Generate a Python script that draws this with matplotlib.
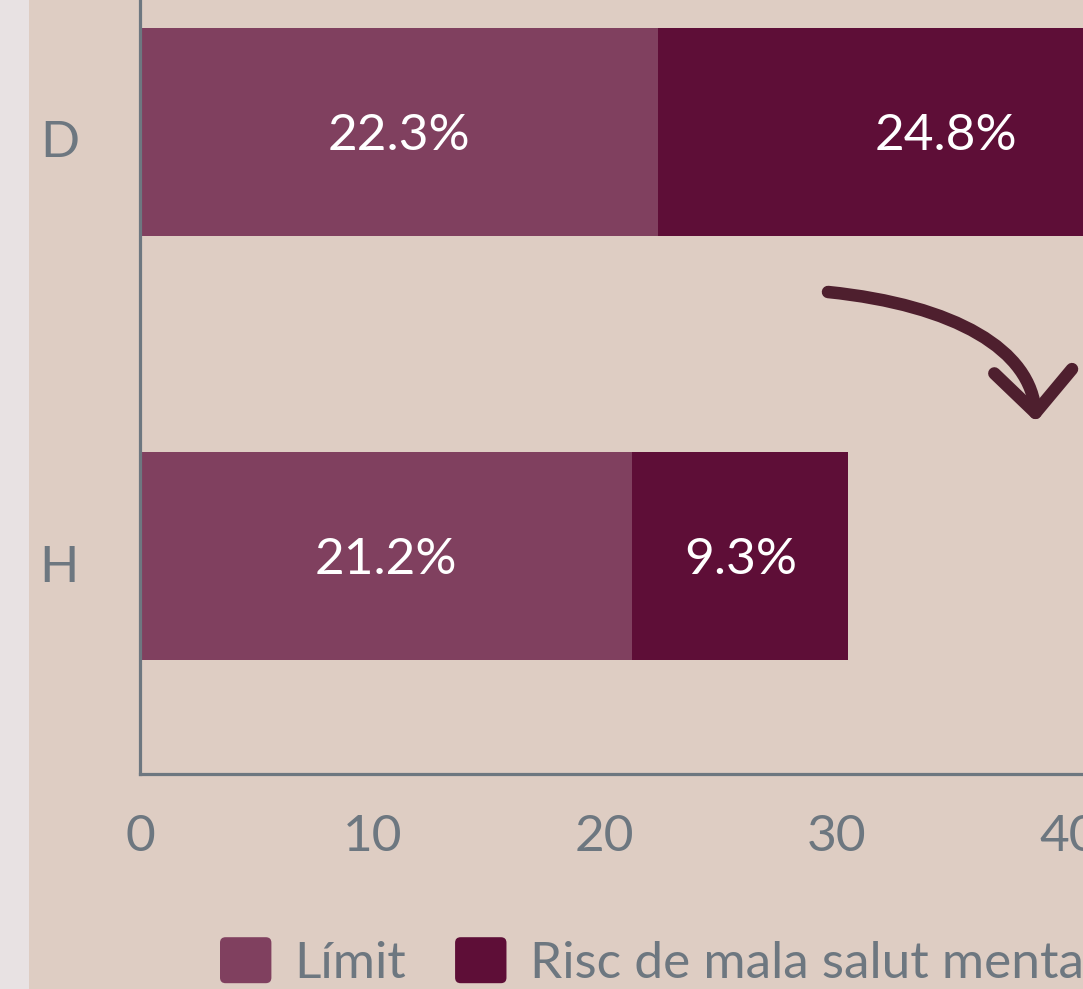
import matplotlib
matplotlib.use("Agg")
import matplotlib.pyplot as plt
import matplotlib.transforms as mtrans
from matplotlib.patches import Rectangle, FancyBboxPatch, FancyArrowPatch, Patch
from matplotlib.legend_handler import HandlerPatch
from matplotlib.path import Path

plt.rcParams["font.family"] = ["Lato", "DejaVu Sans"]

groups = ["H", "D"]
limit_vals = [21.2, 22.3]
risc_vals = [9.3, 24.8]
series_names = ["Límit", "Risc de mala salut mental"]
x_ticks = [0, 10, 20, 30, 40]

c_limit = "#80405f"
c_risc = "#5e0e37"
c_axis = "#6d7780"
bg = "#decdc3"

W, H = 1083, 989
fig = plt.figure(figsize=(W / 100, H / 100), dpi=100, facecolor=bg)

# light strip on the left edge
fig.patches.append(Rectangle((0, 0), 29 / W, 1, transform=fig.transFigure,
                             facecolor="#e8e2e3", edgecolor="none", zorder=0))

ax = fig.add_axes([140 / W, 1 - 774 / H, 1 - 140 / W, 774 / H])
ax.set_facecolor("none")

y = list(range(len(groups)))
b1 = ax.barh(y, limit_vals, height=0.49, color=c_limit, label=series_names[0])
b2 = ax.barh(y, risc_vals, left=limit_vals, height=0.49, color=c_risc,
             label=series_names[1])

for bars, vals in ((b1, limit_vals), (b2, risc_vals)):
    for rect, v in zip(bars, vals):
        ax.text(rect.get_x() + rect.get_width() / 2,
                rect.get_y() + rect.get_height() / 2 - 0.01,
                f"{v}%", color="white", fontsize=37, ha="center", va="center")

ax.set_xlim(0, (W - 141) / 23.2)
ax.set_ylim(-0.514, 1.311)
ax.set_yticks(y)
ax.set_yticklabels(groups)
ax.set_xticks(x_ticks)
ax.tick_params(axis="both", length=0, labelsize=37, colors=c_axis)
ax.tick_params(axis="y", pad=44)
ax.tick_params(axis="x", pad=29)
shift = mtrans.ScaledTranslation(0, -0.07, fig.dpi_scale_trans)
for lbl in ax.get_yticklabels():
    lbl.set_transform(lbl.get_transform() + shift)
for s in ("top", "right"):
    ax.spines[s].set_visible(False)
for s in ("left", "bottom"):
    ax.spines[s].set_color(c_axis)
    ax.spines[s].set_linewidth(2.3)

# hand-drawn style arrow
def fp(px, py):
    return (px / W, 1 - py / H)

verts = [fp(828, 292), fp(955, 305), fp(1032, 350), fp(1036, 422)]
arrow_path = Path(verts, [Path.MOVETO, Path.CURVE4, Path.CURVE4, Path.CURVE4])
arrow = FancyArrowPatch(path=arrow_path, transform=fig.transFigure,
                        arrowstyle="->,head_length=0.75,head_width=0.7",
                        mutation_scale=40, color="#4e1f2e", lw=9,
                        capstyle="round", joinstyle="round")
fig.patches.append(arrow)


class RoundHandler(HandlerPatch):
    def create_artists(self, legend, orig_handle, xdescent, ydescent,
                       width, height, fontsize, trans):
        p = FancyBboxPatch((-xdescent, -ydescent), width, height,
                           boxstyle="round,pad=0,rounding_size=4",
                           facecolor=orig_handle.get_facecolor(),
                           edgecolor="none", transform=trans)
        return [p]


handles = [Patch(facecolor=c_limit), Patch(facecolor=c_risc)]
fig.legend(handles, series_names, loc="center left",
           bbox_to_anchor=(220 / W, 1 - 962 / H), ncol=2, frameon=False,
           fontsize=37, labelcolor=c_axis, handlelength=1.0, handleheight=1.0,
           handletextpad=0.45, columnspacing=0.95, borderpad=0,
           borderaxespad=0, handler_map={Patch: RoundHandler()})

fig.savefig("out.png", dpi=100, facecolor=bg)
